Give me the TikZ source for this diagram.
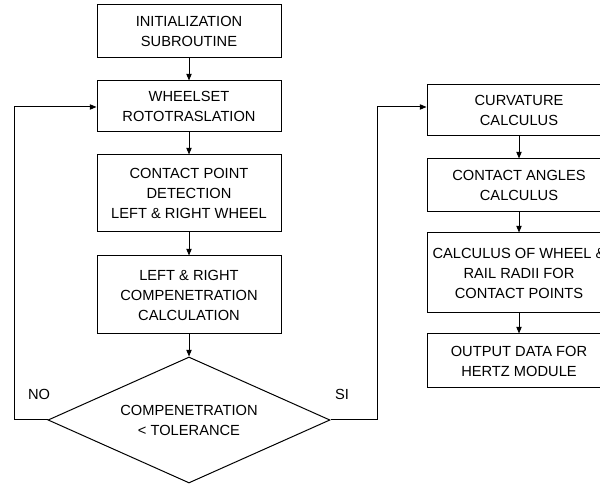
\documentclass[tikz,border=0pt]{standalone}
\usepackage{fontspec}
\setmainfont{Liberation Sans}
\usetikzlibrary{shapes.geometric,arrows.meta}
\begin{document}
\begin{tikzpicture}[x=0.75pt,y=-0.75pt,
  every node/.style={font=\fontsize{11}{15}\selectfont, align=center, text=black},
  box/.style={draw, line width=0.75pt, inner sep=0pt, minimum width=138pt},
  dec/.style={draw, line width=0.75pt, shape=diamond, shape aspect=2.24, inner sep=0pt, minimum width=211.5pt, minimum height=94.5pt},
  conn/.style={draw, line width=0.75pt, -{Triangle[length=5pt,width=4pt]}},
  lbl/.style={inner sep=0pt}]
\useasboundingbox (0,0) rectangle (600,484);
% left column
\node[box, minimum height=39.75pt] (init) at (189,31.5) {INITIALIZATION\\SUBROUTINE};
\node[box, minimum height=38.25pt] (wheel) at (189,106.5) {WHEELSET\\ROTOTRASLATION};
\node[box, minimum height=57.75pt] (contact) at (189,193.5) {CONTACT POINT\\DETECTION\\LEFT \& RIGHT WHEEL};
\node[box, minimum height=58.5pt] (compen) at (189,295) {LEFT \& RIGHT\\COMPENETRATION\\CALCULATION};
\node[dec] (check) at (189,420) {COMPENETRATION\\< TOLERANCE};
% right column
\node[box, minimum height=38.25pt] (curv) at (519,110.5) {CURVATURE\\CALCULUS};
\node[box, minimum height=39.75pt] (angles) at (519,185.5) {CONTACT ANGLES\\CALCULUS};
\node[box, minimum height=60pt] (radii) at (519,273) {CALCULUS OF WHEEL \&\\RAIL RADII FOR\\CONTACT POINTS};
\node[box, minimum height=40.5pt] (output) at (519,361) {OUTPUT DATA FOR\\HERTZ MODULE};
% labels
\node[lbl] (no) at (39,394) {NO};
\node[lbl] (si) at (342,394) {SI};
% connectors
\draw[conn] (init) -- (wheel);
\draw[conn] (wheel) -- (contact);
\draw[conn] (contact) -- (compen);
\draw[conn] (compen) -- (check);
\draw[conn] (curv) -- (angles);
\draw[conn] (angles) -- (radii);
\draw[conn] (radii) -- (output);
\coordinate (lj) at (14,107);
\coordinate (rj) at (377,107);
\draw[conn] (check.west) -| (lj) -- (wheel.west |- lj);
\draw[conn] (check.east) -| (rj) -- (curv.west |- rj);
\end{tikzpicture}
\end{document}
